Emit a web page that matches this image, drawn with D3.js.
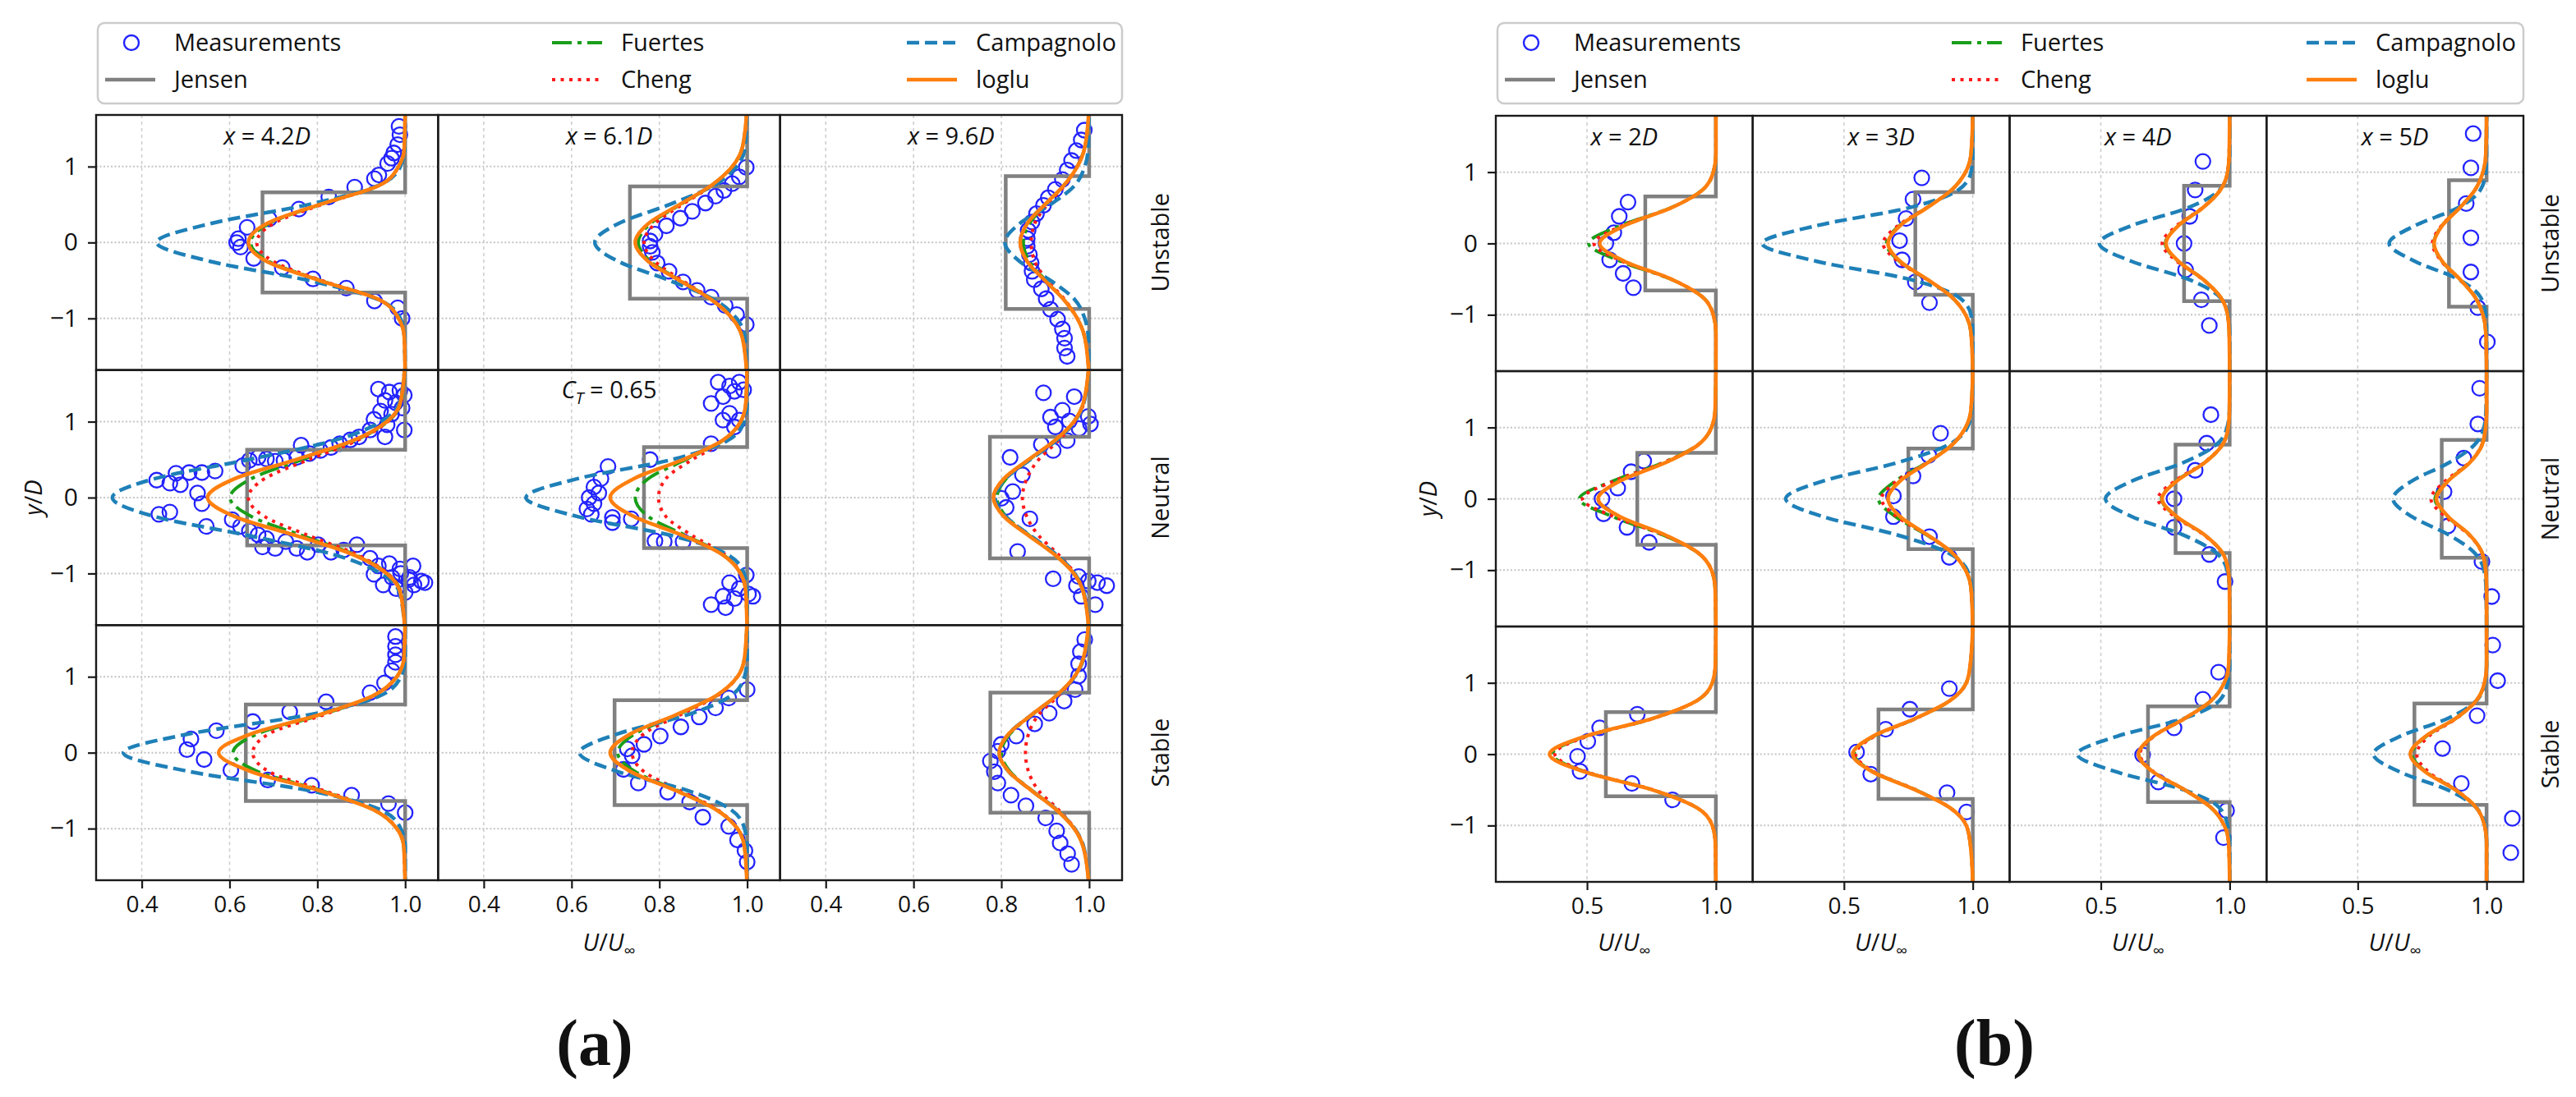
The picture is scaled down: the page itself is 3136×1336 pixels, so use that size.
<!DOCTYPE html>
<html>
<head>
<meta charset="utf-8">
<script src="https://cdn.jsdelivr.net/npm/d3@7"></script>
<style>
  body { margin: 0; background: #fff; }
  svg { display: block; }
  text { font-family: "Open Sans", sans-serif; fill: #111; }
  text.caption { font-family: "Liberation Serif", "DejaVu Serif", serif; font-weight: bold; }
</style>
</head>
<body>
<svg id="chart" width="3136" height="1336"></svg>
<script>
// ---- data ----
// profile values are given at these |y/D| levels and mirrored about y = 0
const yGrid = [0, 0.25, 0.5, 0.75, 1.0, 1.25, 1.8];
const yTicks = [-1, 0, 1];
const rowLabels = ["Unstable", "Neutral", "Stable"];

const distA = ["4.2", "6.1", "9.6"];
const ticksA = [0.4, 0.6, 0.8, 1.0];
const distB = ["2", "3", "4", "5"];
const ticksB = [0.5, 1.0];

// Jensen top-hat: [U/Uinf inside wake, half width y/D], rows x columns
const jensenA = [
  [[0.675, 0.66], [0.733, 0.74], [0.81, 0.875]],
  [[0.64, 0.63], [0.765, 0.665], [0.774, 0.80]],
  [[0.637, 0.635], [0.698, 0.69], [0.775, 0.79]]
];
const iogluA = [
  [[0.643,0.685,0.805,0.94,0.985,0.998,1], [0.745,0.775,0.846,0.918,0.966,0.989,1], [0.843,0.859,0.899,0.942,0.973,0.99,1]],
  [[0.55,0.612,0.751,0.881,0.958,0.989,1], [0.688,0.742,0.854,0.943,0.985,0.997,1], [0.782,0.806,0.862,0.921,0.965,0.987,1]],
  [[0.575,0.65,0.805,0.927,0.981,0.997,1], [0.688,0.735,0.838,0.929,0.978,0.994,1], [0.795,0.817,0.869,0.925,0.966,0.987,1]]
];
const fuertesA = [
  [[0.648,0.69,0.807,0.94,0.985,0.998,1], [0.752,0.78,0.848,0.918,0.966,0.989,1], [0.85,0.864,0.901,0.942,0.973,0.99,1]],
  [[0.601,0.65,0.765,0.885,0.96,0.99,1], [0.745,0.775,0.86,0.945,0.985,0.997,1], [0.79,0.811,0.864,0.921,0.965,0.987,1]],
  [[0.608,0.665,0.81,0.928,0.981,0.997,1], [0.705,0.745,0.842,0.93,0.978,0.994,1], [0.80,0.82,0.87,0.925,0.966,0.987,1]]
];
const chengA = [
  [[0.662,0.70,0.81,0.94,0.985,0.998,1], [0.765,0.79,0.852,0.92,0.966,0.989,1], [0.868,0.876,0.905,0.944,0.973,0.99,1]],
  [[0.643,0.68,0.78,0.89,0.96,0.99,1], [0.798,0.815,0.875,0.95,0.985,0.997,1], [0.848,0.858,0.885,0.93,0.967,0.988,1]],
  [[0.653,0.69,0.815,0.93,0.981,0.997,1], [0.738,0.765,0.848,0.932,0.978,0.994,1], [0.855,0.862,0.885,0.93,0.967,0.988,1]]
];
const campagnoloA = [
  [[0.434,0.557,0.78,0.938,0.989,0.999,1], [0.653,0.707,0.823,0.924,0.976,0.995,1], [0.808,0.842,0.912,0.967,0.99,0.998,1]],
  [[0.333,0.43,0.643,0.837,0.945,0.987,1], [0.496,0.614,0.828,0.955,0.993,1,1], [0.786,0.81,0.866,0.925,0.967,0.988,1]],
  [[0.358,0.51,0.782,0.943,0.99,1,1], [0.618,0.706,0.865,0.963,0.994,1,1], [0.795,0.817,0.869,0.926,0.967,0.988,1]]
];
// measurements [U/Uinf, y/D]
const measA = [
  [
    [[0.986,1.53],[0.988,1.42],[0.983,1.29],[0.974,1.18],[0.969,1.11],[0.96,1.04],[0.94,0.89],[0.93,0.84],[0.885,0.73],[0.826,0.6],[0.758,0.44],[0.69,0.31],[0.64,0.2],[0.62,0.05],[0.616,0.0],[0.625,-0.06],[0.655,-0.21],[0.72,-0.33],[0.79,-0.48],[0.866,-0.6],[0.93,-0.77],[0.983,-0.86],[0.993,-1.0]],
    [[0.998,0.99],[0.982,0.865],[0.966,0.775],[0.947,0.685],[0.928,0.61],[0.905,0.52],[0.875,0.41],[0.848,0.32],[0.816,0.22],[0.79,0.11],[0.779,0.02],[0.779,-0.05],[0.784,-0.13],[0.795,-0.27],[0.822,-0.38],[0.854,-0.52],[0.886,-0.63],[0.918,-0.72],[0.95,-0.83],[0.976,-0.95],[0.998,-1.08]],
    [[0.989,1.48],[0.982,1.35],[0.971,1.21],[0.96,1.08],[0.95,0.955],[0.939,0.83],[0.923,0.7],[0.907,0.59],[0.896,0.49],[0.88,0.38],[0.87,0.27],[0.861,0.16],[0.859,0.05],[0.859,-0.05],[0.864,-0.16],[0.868,-0.27],[0.87,-0.38],[0.875,-0.49],[0.891,-0.61],[0.902,-0.74],[0.912,-0.88],[0.928,-1.01],[0.939,-1.14],[0.944,-1.26],[0.944,-1.39],[0.95,-1.5]]
  ],
  [
    [[0.939,1.43],[0.964,1.39],[0.988,1.41],[0.954,1.28],[0.978,1.25],[0.998,1.35],[0.944,1.14],[0.969,1.1],[0.993,1.18],[0.929,1.03],[0.959,0.96],[0.998,0.89],[0.92,0.89],[0.954,0.8],[0.895,0.8],[0.875,0.76],[0.851,0.71],[0.831,0.66],[0.807,0.62],[0.763,0.69],[0.782,0.58],[0.753,0.53],[0.724,0.49],[0.704,0.48],[0.684,0.51],[0.665,0.53],[0.645,0.49],[0.63,0.42],[0.567,0.35],[0.537,0.33],[0.508,0.33],[0.478,0.32],[0.464,0.19],[0.434,0.23],[0.488,0.17],[0.527,0.06],[0.537,-0.08],[0.547,-0.38],[0.464,-0.19],[0.439,-0.22],[0.606,-0.29],[0.625,-0.38],[0.645,-0.44],[0.665,-0.49],[0.684,-0.54],[0.675,-0.65],[0.704,-0.67],[0.728,-0.58],[0.753,-0.67],[0.777,-0.72],[0.802,-0.62],[0.831,-0.72],[0.86,-0.69],[0.89,-0.62],[0.92,-0.8],[0.939,-0.9],[0.964,-0.87],[0.988,-0.94],[1.018,-0.9],[1.037,-1.1],[1.008,-1.08],[0.929,-1.01],[0.95,-1.15],[0.98,-1.2],[1.0,-1.25],[1.02,-1.15],[1.045,-1.12],[0.97,-1.05],[0.99,-1.0],[1.01,-1.05]],
    [[0.934,1.52],[0.96,1.47],[0.982,1.52],[0.971,1.4],[0.992,1.42],[0.945,1.33],[0.918,1.24],[0.96,1.11],[0.982,1.02],[0.945,1.02],[0.971,0.93],[0.918,0.71],[0.779,0.5],[0.683,0.41],[0.667,0.25],[0.651,0.14],[0.662,0.06],[0.64,0.0],[0.651,-0.08],[0.635,-0.15],[0.645,-0.22],[0.693,-0.26],[0.693,-0.33],[0.736,-0.28],[0.79,-0.57],[0.811,-0.58],[0.854,-0.58],[0.998,-1.02],[0.96,-1.12],[0.982,-1.2],[1.003,-1.27],[0.945,-1.3],[0.918,-1.41],[0.951,-1.45],[0.971,-1.33],[1.013,-1.3]],
    [[0.896,1.38],[0.966,1.33],[0.939,1.15],[0.912,1.06],[0.955,1.01],[0.998,1.07],[1.003,0.97],[0.923,0.93],[0.977,0.91],[0.95,0.75],[0.891,0.7],[0.918,0.62],[0.82,0.53],[0.848,0.3],[0.826,0.08],[0.8,-0.01],[0.811,-0.13],[0.865,-0.28],[0.837,-0.71],[0.918,-1.07],[0.971,-1.16],[0.998,-1.1],[1.019,-1.12],[1.04,-1.16],[0.982,-1.3],[1.014,-1.41],[0.976,-1.04]]
  ],
  [
    [[0.978,1.53],[0.978,1.4],[0.978,1.29],[0.978,1.19],[0.97,1.08],[0.953,0.92],[0.92,0.79],[0.82,0.67],[0.737,0.54],[0.653,0.41],[0.57,0.29],[0.512,0.18],[0.503,0.04],[0.542,-0.09],[0.603,-0.23],[0.687,-0.36],[0.787,-0.43],[0.878,-0.56],[0.962,-0.67],[1.0,-0.79]],
    [[1.0,0.83],[0.958,0.72],[0.928,0.59],[0.891,0.47],[0.849,0.34],[0.802,0.22],[0.765,0.11],[0.727,0.05],[0.738,-0.04],[0.718,-0.22],[0.752,-0.4],[0.819,-0.52],[0.869,-0.65],[0.899,-0.85],[0.958,-0.97],[0.978,-1.15],[0.995,-1.29],[1.0,-1.44]],
    [[0.99,1.49],[0.98,1.33],[0.976,1.17],[0.976,1.01],[0.968,0.83],[0.943,0.68],[0.909,0.52],[0.876,0.38],[0.834,0.22],[0.8,0.11],[0.792,0.02],[0.775,-0.11],[0.784,-0.25],[0.792,-0.4],[0.822,-0.56],[0.856,-0.7],[0.901,-0.86],[0.926,-1.03],[0.934,-1.19],[0.951,-1.33],[0.96,-1.47]]
  ]
];

const jensenB = [
  [[0.726, 0.66], [0.777, 0.72], [0.823, 0.81], [0.854, 0.885]],
  [[0.695, 0.645], [0.75, 0.705], [0.79, 0.76], [0.826, 0.825]],
  [[0.573, 0.59], [0.634, 0.627], [0.683, 0.67], [0.72, 0.71]]
];
const iogluB = [
  [[0.549,0.645,0.827,0.948,0.99,1,1], [0.671,0.718,0.822,0.918,0.972,0.993,1], [0.753,0.801,0.896,0.964,0.992,0.998,1], [0.796,0.828,0.896,0.955,0.986,0.997,1]],
  [[0.543,0.628,0.8,0.929,0.983,0.997,1], [0.671,0.718,0.822,0.918,0.972,0.993,1], [0.738,0.795,0.901,0.971,0.994,0.999,1], [0.805,0.851,0.933,0.982,0.996,1,1]],
  [[0.354,0.492,0.753,0.926,0.986,0.998,1], [0.534,0.612,0.777,0.911,0.975,0.99,1], [0.646,0.703,0.825,0.928,0.979,0.996,1], [0.704,0.763,0.879,0.96,0.992,1,1]]
];
const fuertesB = [
  [[0.506,0.63,0.825,0.948,0.99,1,1], [0.665,0.715,0.821,0.918,0.972,0.993,1], [0.75,0.8,0.896,0.964,0.992,0.998,1], [0.795,0.827,0.896,0.955,0.986,0.997,1]],
  [[0.47,0.6,0.79,0.928,0.983,0.997,1], [0.634,0.70,0.818,0.917,0.972,0.993,1], [0.735,0.793,0.9,0.971,0.994,0.999,1], [0.80,0.848,0.932,0.982,0.996,1,1]],
  [[0.366,0.497,0.755,0.926,0.986,0.998,1], [0.54,0.615,0.778,0.911,0.975,0.99,1], [0.648,0.704,0.825,0.928,0.979,0.996,1], [0.71,0.766,0.88,0.96,0.992,1,1]]
];
const chengB = [
  [[0.527,0.637,0.826,0.948,0.99,1,1], [0.652,0.71,0.82,0.918,0.972,0.993,1], [0.738,0.795,0.894,0.964,0.992,0.998,1], [0.79,0.825,0.895,0.955,0.986,0.997,1]],
  [[0.482,0.605,0.792,0.928,0.983,0.997,1], [0.646,0.705,0.82,0.917,0.972,0.993,1], [0.722,0.787,0.898,0.97,0.994,0.999,1], [0.784,0.84,0.93,0.981,0.996,1,1]],
  [[0.375,0.5,0.756,0.926,0.986,0.998,1], [0.545,0.618,0.779,0.911,0.975,0.99,1], [0.652,0.706,0.826,0.928,0.979,0.996,1], [0.729,0.775,0.882,0.96,0.992,1,1]]
];
// no Campagnolo curve is drawn in some panels of (b)
const campagnoloB = [
  [null, [0.183,0.394,0.752,0.944,0.993,1,1], [0.494,0.619,0.838,0.961,0.994,1,1], [0.622,0.722,0.889,0.976,0.997,1,1]],
  [null, [0.274,0.419,0.701,0.901,0.979,0.996,1], [0.518,0.621,0.815,0.945,0.99,0.999,1], [0.637,0.71,0.851,0.951,0.99,0.998,1]],
  [null, null, [0.409,0.562,0.822,0.96,0.992,1,1], [0.561,0.664,0.849,0.96,0.994,1,1]]
];
const measB = [
  [
    [[0.659,0.58],[0.625,0.38],[0.604,0.15],[0.573,0.0],[0.588,-0.23],[0.64,-0.42],[0.68,-0.62]],
    [[0.802,0.92],[0.768,0.62],[0.741,0.35],[0.716,0.04],[0.726,-0.23],[0.777,-0.54],[0.832,-0.83]],
    [[0.896,1.15],[0.866,0.75],[0.845,0.38],[0.823,0.0],[0.829,-0.37],[0.89,-0.79],[0.921,-1.15]],
    [[0.948,1.54],[0.939,1.06],[0.921,0.56],[0.939,0.08],[0.939,-0.4],[0.966,-0.9],[1.003,-1.38]]
  ],
  [
    [[0.72,0.53],[0.671,0.38],[0.619,0.15],[0.558,0.0],[0.564,-0.21],[0.655,-0.4],[0.741,-0.61]],
    [[0.875,0.92],[0.829,0.61],[0.768,0.32],[0.692,0.04],[0.692,-0.25],[0.832,-0.53],[0.909,-0.82]],
    [[0.927,1.18],[0.911,0.78],[0.866,0.4],[0.784,0.0],[0.784,-0.4],[0.921,-0.78],[0.982,-1.16]],
    [[0.973,1.55],[0.966,1.05],[0.912,0.57],[0.835,0.1],[0.85,-0.38],[0.982,-0.88],[1.02,-1.37]]
  ],
  [
    [[0.695,0.56],[0.549,0.37],[0.503,0.18],[0.463,-0.03],[0.473,-0.24],[0.674,-0.41],[0.832,-0.64]],
    [[0.909,0.92],[0.756,0.63],[0.662,0.35],[0.549,0.03],[0.604,-0.28],[0.9,-0.54],[0.976,-0.81]],
    [[0.957,1.15],[0.896,0.77],[0.784,0.37],[0.662,-0.01],[0.723,-0.39],[0.988,-0.79],[0.976,-1.17]],
    [[1.024,1.53],[1.043,1.03],[0.963,0.54],[0.829,0.08],[0.902,-0.41],[1.1,-0.9],[1.094,-1.38]]
  ]
];

// ---- styles ----
const styles = {
  meas: { color: "#2323ff" },
  jensen: { color: "#808080", width: 4.5, dash: null },
  fuertes: { color: "#1a9e1a", width: 4, dash: "24,7,5,7" },
  cheng: { color: "#ff1a1a", width: 4, dash: "4,6.5" },
  campagnolo: { color: "#1f80b8", width: 4.5, dash: "15,7" },
  ioglu: { color: "#ff7f0e", width: 4.5, dash: null }
};
const legendItems = [
  { key: "meas", label: "Measurements", col: 0, row: 0 },
  { key: "jensen", label: "Jensen", col: 0, row: 1 },
  { key: "fuertes", label: "Fuertes", col: 1, row: 0 },
  { key: "cheng", label: "Cheng", col: 1, row: 1 },
  { key: "campagnolo", label: "Campagnolo", col: 2, row: 0 },
  { key: "ioglu", label: "loglu", col: 2, row: 1 }
];

const svg = d3.select("#chart");
let clipCount = 0;

function mirrored(vals) {
  const half = yGrid.map((y, i) => [vals[i], y]);
  const lower = half.slice(1).reverse().map(([u, y]) => [u, -y]);
  return lower.concat(half);
}

function drawFigure(fig) {
  const ncol = fig.dists.length;
  const colW = (fig.right - fig.left) / ncol;
  const rowH = (fig.bottom - fig.top) / 3;

  // legend
  const lg = svg.append("g").attr("transform", `translate(${fig.left + 2},28)`);
  lg.append("rect")
    .attr("width", fig.right - fig.left - 2).attr("height", 98)
    .attr("rx", 8).attr("fill", "#fff")
    .attr("stroke", "#cccccc").attr("stroke-width", 2.5);
  const colX = [0, 544, 976];
  legendItems.forEach(it => {
    const cx = colX[it.col], cy = 24 + it.row * 45;
    const st = styles[it.key];
    if (it.key === "meas") {
      lg.append("circle").attr("cx", cx + 41).attr("cy", cy).attr("r", 9)
        .attr("fill", "none").attr("stroke", st.color).attr("stroke-width", 2.4);
    } else {
      lg.append("line").attr("x1", cx + 9).attr("x2", cx + 70).attr("y1", cy).attr("y2", cy)
        .attr("stroke", st.color).attr("stroke-width", st.width)
        .attr("stroke-dasharray", st.dash);
    }
    lg.append("text").attr("x", cx + 93).attr("y", cy + 10)
      .attr("font-size", 29).text(it.label);
  });

  for (let r = 0; r < 3; r++) {
    for (let c = 0; c < ncol; c++) {
      const x0 = fig.left + c * colW, y0 = fig.top + r * rowH;
      const x = d3.scaleLinear().domain(fig.xlim).range([x0, x0 + colW]);
      const y = d3.scaleLinear().domain([-fig.ylim, fig.ylim]).range([y0 + rowH, y0]);
      const g = svg.append("g");
      const id = "clip" + (clipCount++);
      g.append("clipPath").attr("id", id).append("rect")
        .attr("x", x0).attr("y", y0).attr("width", colW).attr("height", rowH);

      // grid
      const grid = g.append("g");
      grid.selectAll("line.vx").data(fig.xticks).join("line")
        .attr("x1", d => x(d)).attr("x2", d => x(d)).attr("y1", y0).attr("y2", y0 + rowH)
        .attr("stroke", "#cfcfcf").attr("stroke-width", 1.6).attr("stroke-dasharray", "4,4");
      grid.selectAll("line.hy").data(yTicks).join("line")
        .attr("x1", x0).attr("x2", x0 + colW).attr("y1", d => y(d)).attr("y2", d => y(d))
        .attr("stroke", "#c4c4c4").attr("stroke-width", 2).attr("stroke-dasharray", "2,2.5");

      const plot = g.append("g").attr("clip-path", `url(#${id})`);

      // measurements
      plot.selectAll("circle").data(fig.meas[r][c]).join("circle")
        .attr("cx", d => x(d[0])).attr("cy", d => y(d[1])).attr("r", 9)
        .attr("fill", "none").attr("stroke", styles.meas.color).attr("stroke-width", 2.3);

      // Jensen top hat
      const [uj, hj] = fig.jensen[r][c];
      const hat = [[1, -fig.ylim - 0.2], [1, -hj], [uj, -hj], [uj, hj], [1, hj], [1, fig.ylim + 0.2]];
      plot.append("path").datum(hat)
        .attr("d", d3.line().x(d => x(d[0])).y(d => y(d[1])))
        .attr("fill", "none").attr("stroke", styles.jensen.color)
        .attr("stroke-width", styles.jensen.width);

      const smooth = d3.line().x(d => x(d[0])).y(d => y(d[1])).curve(d3.curveMonotoneY);
      ["fuertes", "cheng", "campagnolo", "ioglu"].forEach(k => {
        const vals = fig[k][r][c];
        if (!vals) return;
        const st = styles[k];
        plot.append("path").datum(mirrored(vals))
          .attr("d", smooth)
          .attr("fill", "none").attr("stroke", st.color)
          .attr("stroke-width", st.width)
          .attr("stroke-dasharray", st.dash);
      });

      // frame
      g.append("rect").attr("x", x0).attr("y", y0).attr("width", colW).attr("height", rowH)
        .attr("fill", "none").attr("stroke", "#1a1a1a").attr("stroke-width", 2.4);

      // axes
      if (c === 0) {
        const ax = g.append("g").attr("transform", `translate(${x0},0)`)
          .call(d3.axisLeft(y).tickValues(yTicks).tickSize(10).tickPadding(12).tickFormat(d3.format("d")));
        styleAxis(ax, 30);
      }
      if (r === 2) {
        const ax = g.append("g").attr("transform", `translate(0,${y0 + rowH})`)
          .call(d3.axisBottom(x).tickValues(fig.xticks).tickSize(10).tickPadding(9).tickFormat(d3.format(".1f")));
        styleAxis(ax, 28);
      }

      // column titles
      if (r === 0) {
        const t = g.append("text").attr("x", x0 + colW / 2).attr("y", y0 + 36)
          .attr("text-anchor", "middle").attr("font-size", 29);
        t.append("tspan").attr("font-style", "italic").text("x");
        t.append("tspan").text(" = " + fig.dists[c]);
        t.append("tspan").attr("font-style", "italic").text("D");
      }
      if (fig.ctLabel && r === 1 && c === 1) {
        const t = g.append("text").attr("x", x0 + colW / 2).attr("y", y0 + 34)
          .attr("text-anchor", "middle").attr("font-size", 29);
        t.append("tspan").attr("font-style", "italic").text("C");
        t.append("tspan").attr("font-style", "italic").attr("font-size", 20).attr("dy", 7).text("T");
        t.append("tspan").attr("dy", -7).text(" = 0.65");
      }
      // x labels
      if (r === 2 && (fig.xlabelEach || c === Math.floor(ncol / 2))) {
        uLabel(x0 + colW / 2, 1158);
      }
    }
    // row labels
    svg.append("text")
      .attr("transform", `translate(${fig.rowLabelX},${fig.top + (r + 0.5) * rowH}) rotate(-90)`)
      .attr("text-anchor", "middle").attr("dominant-baseline", "central")
      .attr("font-size", 29).text(rowLabels[r]);
  }

  // y label
  const yl = svg.append("text")
    .attr("transform", `translate(${fig.ylabelX},${fig.top + 1.5 * rowH}) rotate(-90)`)
    .attr("text-anchor", "middle").attr("dominant-baseline", "central").attr("font-size", 29);
  yl.append("tspan").attr("font-style", "italic").text("y");
  yl.append("tspan").text("/");
  yl.append("tspan").attr("font-style", "italic").text("D");

  // caption
  svg.append("text").attr("class", "caption")
    .attr("x", fig.captionX).attr("y", 1297)
    .attr("text-anchor", "middle")
    .attr("font-size", 80).text(fig.caption);
}

function uLabel(cx, baseY) {
  const t = svg.append("text").attr("x", cx).attr("y", baseY)
    .attr("text-anchor", "middle").attr("font-size", 29);
  t.append("tspan").attr("font-style", "italic").text("U");
  t.append("tspan").text("/");
  t.append("tspan").attr("font-style", "italic").text("U");
  t.append("tspan").attr("font-size", 20).attr("dy", 7).text("\u221E");
}

function styleAxis(ax, size) {
  ax.select(".domain").remove();
  ax.selectAll(".tick line").attr("stroke", "#1a1a1a").attr("stroke-width", 2.2);
  ax.selectAll(".tick text").attr("font-size", size).attr("fill", "#111")
    .attr("font-family", "'Open Sans', sans-serif");
}

drawFigure({
  left: 117, right: 1366, top: 140, bottom: 1072,
  xlim: [0.296, 1.075], ylim: 1.68, xticks: ticksA, dists: distA,
  jensen: jensenA, ioglu: iogluA, fuertes: fuertesA, cheng: chengA, campagnolo: campagnoloA, meas: measA,
  ylabelX: 39, rowLabelX: 1411, captionX: 724, caption: "(a)", ctLabel: true, xlabelEach: false
});
drawFigure({
  left: 1821, right: 3072, top: 141, bottom: 1074,
  xlim: [0.146, 1.143], ylim: 1.79, xticks: ticksB, dists: distB,
  jensen: jensenB, ioglu: iogluB, fuertes: fuertesB, cheng: chengB, campagnolo: campagnoloB, meas: measB,
  ylabelX: 1737, rowLabelX: 3103, captionX: 2428, caption: "(b)", ctLabel: false, xlabelEach: true
});
</script>
</body>
</html>
